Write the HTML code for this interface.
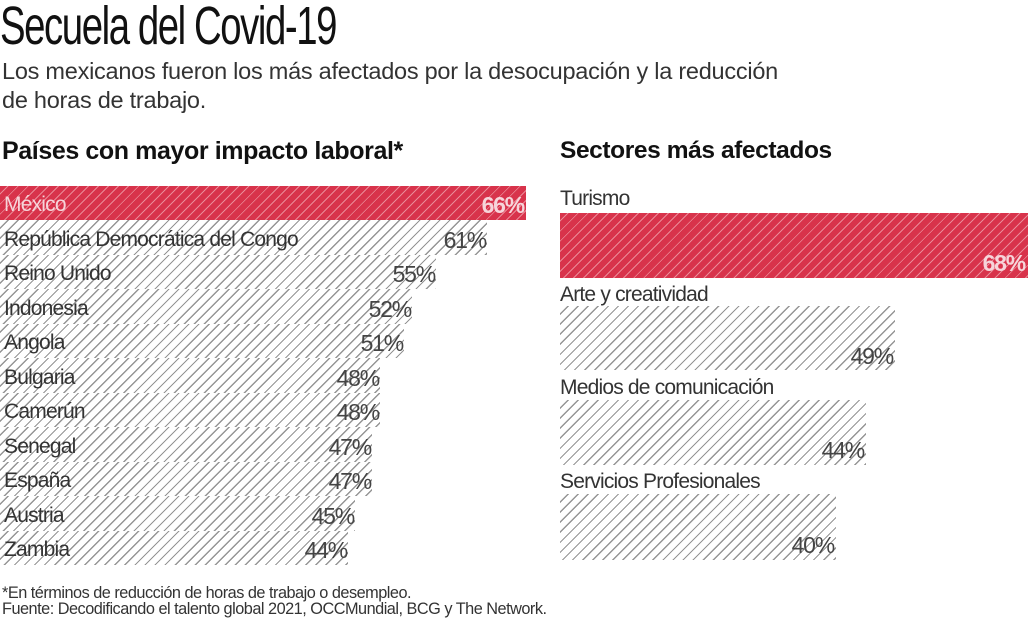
<!DOCTYPE html>
<html><head><meta charset="utf-8"><style>
body{margin:0;width:1028px;height:620px;background:#fff;position:relative;overflow:hidden;font-family:"Liberation Sans",sans-serif;color:#222}
.a{position:absolute;white-space:nowrap}
.h{background:repeating-linear-gradient(135deg,#fff 0 5.2px,#959595 5.2px 6.5px,#fff 6.5px 7.1px)}
.r{background:repeating-linear-gradient(135deg,#d8334b 0 5.3px,#ea8a97 5.3px 6.3px,#d8334b 6.3px 7.1px)}
.lab{font-size:21px;letter-spacing:-0.8px;color:#333}
.pct{font-size:23px;letter-spacing:-1.2px;color:#444;text-align:right;width:100px}
</style></head><body>
<div class="a" style="left:0;top:-5px;font-family:'Liberation Sans Narrow','Liberation Sans',sans-serif;font-size:54px;letter-spacing:-2px;color:#111;transform:scaleX(0.71);transform-origin:left">Secuela del Covid-19</div>
<div class="a" style="left:2px;top:57px;font-size:23.5px;line-height:29px;color:#333;letter-spacing:-0.25px">Los mexicanos fueron los más afectados por la desocupación y la reducción<br>de horas de trabajo.</div>
<div class="a" style="left:2px;top:137px;font-size:25px;font-weight:bold;color:#111;letter-spacing:-0.4px">Países con mayor impacto laboral*</div>
<div class="a" style="left:560px;top:137px;font-size:24.5px;font-weight:bold;color:#111;letter-spacing:-0.4px">Sectores más afectados</div>

<div class="a r" style="left:0;top:186px;width:526px;height:34px"></div>
<div class="a lab" style="left:4px;top:193px;color:#f6d5da">México</div>
<div class="a pct" style="left:424px;top:192px;color:#f6d5da;font-weight:bold">66%</div>

<div class="a h" style="left:0;top:220px;width:487px;height:35px"></div>
<div class="a h" style="left:0;top:255px;width:436px;height:34px"></div>
<div class="a h" style="left:0;top:289px;width:412px;height:35px"></div>
<div class="a h" style="left:0;top:324px;width:404px;height:34px"></div>
<div class="a h" style="left:0;top:358px;width:380px;height:35px"></div>
<div class="a h" style="left:0;top:393px;width:380px;height:34px"></div>
<div class="a h" style="left:0;top:427px;width:372px;height:35px"></div>
<div class="a h" style="left:0;top:462px;width:372px;height:34px"></div>
<div class="a h" style="left:0;top:496px;width:355px;height:35px"></div>
<div class="a h" style="left:0;top:531px;width:348px;height:34px"></div>

<div class="a lab" style="left:4px;top:228px">República Democrática del Congo</div><div class="a pct" style="left:386px;top:227px">61%</div>
<div class="a lab" style="left:4px;top:262px">Reino Unido</div><div class="a pct" style="left:335px;top:261px">55%</div>
<div class="a lab" style="left:4px;top:297px">Indonesia</div><div class="a pct" style="left:311px;top:296px">52%</div>
<div class="a lab" style="left:4px;top:331px">Angola</div><div class="a pct" style="left:303px;top:330px">51%</div>
<div class="a lab" style="left:4px;top:366px">Bulgaria</div><div class="a pct" style="left:279px;top:365px">48%</div>
<div class="a lab" style="left:4px;top:400px">Camerún</div><div class="a pct" style="left:279px;top:399px">48%</div>
<div class="a lab" style="left:4px;top:435px">Senegal</div><div class="a pct" style="left:271px;top:434px">47%</div>
<div class="a lab" style="left:4px;top:469px">España</div><div class="a pct" style="left:271px;top:468px">47%</div>
<div class="a lab" style="left:4px;top:504px">Austria</div><div class="a pct" style="left:254px;top:503px">45%</div>
<div class="a lab" style="left:4px;top:538px">Zambia</div><div class="a pct" style="left:247px;top:537px">44%</div>

<div class="a lab" style="left:560px;top:187px">Turismo</div>
<div class="a r" style="left:560px;top:213px;width:468px;height:65px"></div>
<div class="a pct" style="left:925px;top:250px;color:#f6d5da;font-weight:bold">68%</div>
<div class="a lab" style="left:560px;top:283px">Arte y creatividad</div>
<div class="a h" style="left:560px;top:306px;width:335px;height:64px"></div>
<div class="a pct" style="left:793px;top:343px">49%</div>
<div class="a lab" style="left:560px;top:376px">Medios de comunicación</div>
<div class="a h" style="left:560px;top:400px;width:306px;height:65px"></div>
<div class="a pct" style="left:764px;top:437px">44%</div>
<div class="a lab" style="left:560px;top:470px">Servicios Profesionales</div>
<div class="a h" style="left:560px;top:494px;width:276px;height:66px"></div>
<div class="a pct" style="left:734px;top:532px">40%</div>

<div class="a" style="left:2px;top:585px;font-size:16.3px;line-height:16px;color:#333;letter-spacing:-0.5px">*En términos de reducción de horas de trabajo o desempleo.<br>Fuente: Decodificando el talento global 2021, OCCMundial, BCG y The Network.</div>
</body></html>
